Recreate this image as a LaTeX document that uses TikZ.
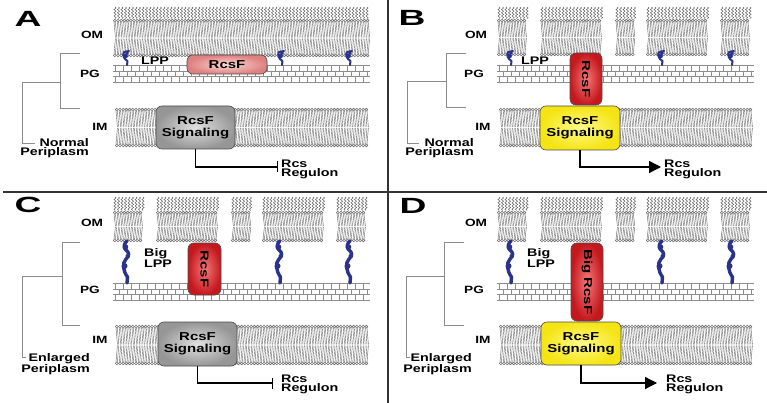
\documentclass[tikz,border=0pt]{standalone}
\usepackage{fontspec}
\setmainfont{Liberation Sans}[FakeStretch=1.3]
\usetikzlibrary{arrows.meta,decorations.pathmorphing}
\definecolor{lppblue}{RGB}{42,50,140}
\definecolor{pinkin}{RGB}{250,215,212}
\definecolor{pinkout}{RGB}{222,128,128}
\definecolor{redin}{RGB}{245,120,120}
\definecolor{redout}{RGB}{196,24,30}
\definecolor{grayin}{RGB}{225,225,225}
\definecolor{grayout}{RGB}{150,150,150}
\definecolor{yelin}{RGB}{255,250,140}
\definecolor{yelout}{RGB}{245,228,20}
\tikzset{
 lipid/.style={draw=black!62, line width=0.4pt},
 head/.style={draw=black!65, line width=0.4pt, fill=black!8},
 lpsst/.style={draw=black!65, line width=0.45pt, decorate, decoration={snake,amplitude=1.1pt,segment length=3.2pt}},
 pgline/.style={draw=black!45, line width=0.45pt},
 pgtick/.style={draw=black!45, line width=0.4pt},
 lppst/.style={draw=lppblue, line width=2pt, line cap=round, line join=round},
 brk/.style={draw=black!45, line width=0.7pt},
 divider/.style={draw=black!80, line width=1.8pt},
 conn/.style={draw=black, line width=1.3pt},
 lbl/.style={font=\bfseries\fontsize{10.5}{10.5}\selectfont, inner sep=0pt},
 txt/.style={font=\bfseries\fontsize{11}{9.5}\selectfont, inner sep=0pt},
 letter/.style={font=\bfseries\fontsize{22}{22}\selectfont, inner sep=0pt},
 boxbase/.style={rounded corners=6pt, draw=black!70, line width=0.6pt, inner sep=0pt,
   font=\bfseries\fontsize{11.5}{12}\selectfont, align=center},
 pinkbox/.style={boxbase, shading=radial, inner color=pinkin, outer color=pinkout},
 redbox/.style={boxbase, shading=radial, inner color=redin, outer color=redout},
 graybox/.style={boxbase, shading=radial, inner color=grayin, outer color=grayout},
 yelbox/.style={boxbase, shading=radial, inner color=yelin, outer color=yelout},
 bartip/.style={-{Bar[width=11pt]}},
 tritip/.style={-{Triangle[length=12pt,width=12pt]}}
}
% membranes
\newcommand\lpsband[4]{%
  \pgfmathsetmacro\lA{#1+2}\pgfmathsetmacro\lB{#1+5.5}\pgfmathsetmacro\lE{#2-1}%
  \foreach \x in {\lA,\lB,...,\lE}{\draw[lpsst] (\x,#3) -- (\x,#4);}}
\newcommand\bilayer[4]{%
  \pgfmathsetmacro\bA{#1+1.8}\pgfmathsetmacro\bB{#1+5.0}\pgfmathsetmacro\bE{#2-1.8}%
  \pgfmathsetmacro\bM{(#3+#4)/2}%
  \foreach \x in {\bA,\bB,...,\bE}{
    \draw[lipid] (\x-0.8,#3+3) -- (\x+0.6,\bM-0.5) (\x+0.6,#3+3) -- (\x+2,\bM-0.5);
    \draw[lipid] (\x-0.8,#4-3) -- (\x+0.6,\bM+0.5) (\x+0.6,#4-3) -- (\x+2,\bM+0.5);
    \draw[head] (\x,#3+1.6) circle[radius=1.5];
    \draw[head] (\x,#4-1.6) circle[radius=1.5];
  }}
\newcommand\pglayer[3]{%
  \foreach \k in {0,1,2,3}{\draw[pgline] (#1,#3+\k*5.8) -- (#2,#3+\k*5.8);}
  \foreach \k in {0,1,2}{
    \pgfmathsetmacro\tA{#1+2+mod(\k,2)*4}\pgfmathsetmacro\tB{\tA+8}\pgfmathsetmacro\tE{#2-1}%
    \foreach \x in {\tA,\tB,...,\tE}{\draw[pgtick] (\x,#3+\k*5.8) -- (\x,#3+\k*5.8+5.8);}
  }}
\newcommand\ompieces[4]{%
  \foreach \a/\b in {113/145,156/220,231/252,262/325,336/368}{
    \pgfmathsetmacro\pa{\a+#1}\pgfmathsetmacro\pb{\b+#1}%
    \lpsband{\pa}{\pb}{#2}{#3}
    \bilayer{\pa}{\pb}{#3}{#4}
  }}
\newcommand\lppsmall[2]{%
  \begin{scope}[shift={(#1,#2)}]
    \draw[lppst] (0,0) -- (0.5,-4) .. controls (-3,-6) and (-5,-10) .. (-3,-13) -- (2,-14);
    \fill[lppblue] (-1.5,-9) circle[radius=2.4];
    \fill[lppblue] (0,-12) circle[radius=1.8];
  \end{scope}}
\newcommand\lppbig[2]{%
  \begin{scope}[shift={(#1,#2)}]
    \draw[lppst, line width=3.4pt] (0,0) -- (0.5,-6) .. controls (-4,-12) and (-5,-20) .. (-1,-24)
      .. controls (3,-27) and (2,-31) .. (-1,-33) .. controls (-4,-35) and (-3,-40) .. (0,-42);
    \fill[lppblue] (-2.5,-17) circle[radius=3];
    \fill[lppblue] (-1.5,-36) circle[radius=2.8];
    \fill[lppblue] (0.5,-27) circle[radius=2];
  \end{scope}}

\begin{document}
\begin{tikzpicture}[x=1pt,y=-1pt]
\useasboundingbox (0,0) rectangle (767,403);
\fill[white] (0,0) rectangle (767,403);

% ================= Panel A =================
\lpsband{113}{370}{7}{19}
\bilayer{113}{370}{19}{57}
\pglayer{113}{370}{65}
\lppsmall{127}{65}\lppsmall{282}{65}\lppsmall{350}{65}
\bilayer{115}{370}{108}{147}
\node[letter] (lA) at (28,19) {\scalebox{1.3}[1]{A}};
\node[lbl] (omA) at (92,35) {OM};
\node[lbl] (pgA) at (90,74) {PG};
\node[lbl] (imA) at (100,127) {IM};
\node[txt] (lppA) at (155,61) {LPP};
\node[pinkbox, minimum width=80pt, minimum height=19pt] (rA) at (227,64.5) {RcsF};
\node[graybox, minimum width=79pt, minimum height=43pt] (sA) at (195.5,127.5) {RcsF\\Signaling};
\coordinate (tA) at (278,167);
\draw[conn,bartip] (sA.south) |- (tA);
\node[txt, anchor=west, align=left] (regA) at (281,169.5) {Rcs\\Regulon};
\draw[brk] (80,53) -- (60,53) -- (60,108) -- (80,108);
\draw[brk] (60,82) -- (22,82) -- (22,143) -- (35,143);
\node[txt, anchor=east, align=right] (npA) at (89,148) {Normal\\Periplasm};

% ================= Panel B =================
\ompieces{384}{7}{19}{56}
\pglayer{497}{754}{65}
\lppsmall{511}{65}\lppsmall{662}{65}\lppsmall{732}{65}
\bilayer{499}{754}{108}{147}
\node[letter] (lB) at (412,18) {\scalebox{1.3}[1]{B}};
\node[lbl] (omB) at (476,35) {OM};
\node[lbl] (pgB) at (474,74) {PG};
\node[lbl] (imB) at (483,127) {IM};
\node[txt] (lppB) at (535,61) {LPP};
\node[redbox, minimum width=32pt, minimum height=52pt] (rB) at (586,79) {};
\node[font=\bfseries\fontsize{11.5}{12}\selectfont, rotate=-90, inner sep=0pt] (rBt) at (rB) {RcsF};
\node[yelbox, minimum width=80pt, minimum height=44pt] (sB) at (580,128) {RcsF\\Signaling};
\coordinate (tB) at (661,167);
\draw[conn,tritip] (sB.south) |- (tB);
\node[txt, anchor=west, align=left] (regB) at (664,169.5) {Rcs\\Regulon};
\draw[brk] (466,53) -- (446,53) -- (446,107) -- (466,107);
\draw[brk] (446,81) -- (407,81) -- (407,143) -- (419,143);
\node[txt, anchor=east, align=right] (npB) at (474,148) {Normal\\Periplasm};

% ================= Panel C =================
\ompieces{0}{197}{211}{242}
\pglayer{113}{370}{283}
\lppbig{127}{283}\lppbig{280}{283}\lppbig{350}{283}
\bilayer{115}{370}{325}{365}
\node[letter] (lC) at (28,205) {\scalebox{1.3}[1]{C}};
\node[lbl] (omC) at (92,223) {OM};
\node[lbl] (pgC) at (90,290) {PG};
\node[lbl] (imC) at (100,340) {IM};
\node[txt, anchor=west, align=left] (lppC) at (144,258) {Big\\LPP};
\node[redbox, minimum width=33pt, minimum height=52pt] (rC) at (204.5,269) {};
\node[font=\bfseries\fontsize{11.5}{12}\selectfont, rotate=-90, inner sep=0pt] (rCt) at (rC) {RcsF};
\node[graybox, minimum width=79pt, minimum height=44pt] (sC) at (197.5,344) {RcsF\\Signaling};
\coordinate (tC) at (273,383);
\draw[conn,bartip] (sC.south) |- (tC);
\node[txt, anchor=west, align=left] (regC) at (281,384.5) {Rcs\\Regulon};
\draw[brk] (80,242) -- (62,242) -- (62,325) -- (80,325);
\draw[brk] (62,276) -- (22,276) -- (22,357) -- (26,357);
\node[txt, anchor=east, align=right] (npC) at (90,364.5) {Enlarged\\Periplasm};

% ================= Panel D =================
\ompieces{384}{197}{211}{242}
\pglayer{497}{754}{283}
\lppbig{511}{283}\lppbig{662}{283}\lppbig{732}{283}
\bilayer{499}{754}{325}{365}
\node[letter] (lD) at (413,206) {\scalebox{1.3}[1]{D}};
\node[lbl] (omD) at (476,223) {OM};
\node[lbl] (pgD) at (474,290) {PG};
\node[lbl] (imD) at (483,340) {IM};
\node[txt, anchor=west, align=left] (lppD) at (527,258) {Big\\LPP};
\node[redbox, minimum width=32pt, minimum height=78pt] (rD) at (587,282) {};
\node[font=\bfseries\fontsize{11.5}{12}\selectfont, rotate=-90, inner sep=0pt] (rDt) at (rD) {Big RcsF};
\node[yelbox, minimum width=80pt, minimum height=43pt] (sD) at (581,343.5) {RcsF\\Signaling};
\coordinate (tD) at (657,383);
\draw[conn,tritip] (sD.south) |- (tD);
\node[txt, anchor=west, align=left] (regD) at (666,384.5) {Rcs\\Regulon};
\draw[brk] (464,242) -- (444,242) -- (444,325) -- (464,325);
\draw[brk] (444,276) -- (406,276) -- (406,357) -- (410,357);
\node[txt, anchor=east, align=right] (npD) at (472,364.5) {Enlarged\\Periplasm};

% dividers
\coordinate (vt) at (388,0); \coordinate (vb) at (388,403);
\coordinate (hl) at (3,192); \coordinate (hr) at (767,192);
\draw[divider] (vt) -- (vb);
\draw[divider] (hl) -- (hr);
\end{tikzpicture}
\end{document}
